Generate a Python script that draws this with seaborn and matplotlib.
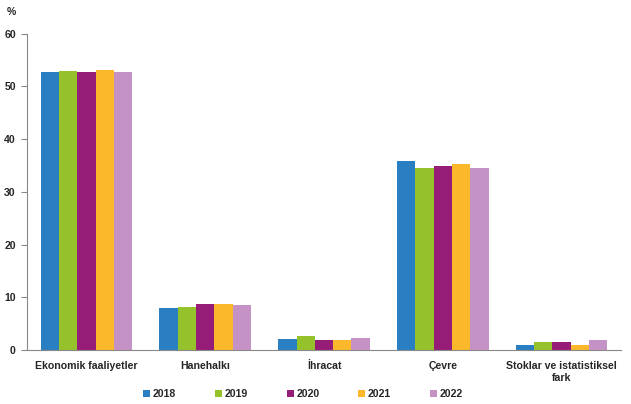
import numpy as np
import pandas as pd
import matplotlib
matplotlib.use("Agg")
import matplotlib.pyplot as plt
import seaborn as sns

# data
categories = ["Ekonomik faaliyetler", "Hanehalkı", "İhracat", "Çevre",
              "Stoklar ve istatistiksel\nfark"]
years = ["2018", "2019", "2020", "2021", "2022"]
v2018 = [52.8, 8.0, 2.0, 35.8, 1.0]
v2019 = [52.9, 8.2, 2.7, 34.5, 1.6]
v2020 = [52.7, 8.7, 1.8, 34.9, 1.6]
v2021 = [53.1, 8.7, 1.8, 35.3, 1.0]
v2022 = [52.7, 8.5, 2.3, 34.5, 1.8]
colors = ["#2a7fc2", "#95c12b", "#951d77", "#fbb82a", "#c492c5"]

series = [v2018, v2019, v2020, v2021, v2022]
rows = []
for y, vals in zip(years, series):
    for c, v in zip(categories, vals):
        rows.append({"Kategori": c, "Yil": y, "Deger": v})
df = pd.DataFrame(rows)

sns.set_style("white")
plt.rcParams["font.family"] = ["Liberation Sans", "DejaVu Sans"]
plt.rcParams["font.weight"] = "bold"
fs = 7.6

fig = plt.figure(figsize=(6.31, 4.04), dpi=100)
ax = fig.add_axes([0.0428, 0.1337, 0.9414, 0.7829])

sns.barplot(data=df, x="Kategori", y="Deger", hue="Yil", order=categories,
            hue_order=years, palette=colors, width=0.77, saturation=1,
            gap=0, linewidth=0, edgecolor="none", ax=ax, legend=True)

ax.set_xlim(-0.5, 4.5)
ax.set_ylim(0, 60)
ax.set_yticks(range(0, 61, 10))
ax.set_xlabel("")
ax.set_ylabel("")

for s in ["top", "right"]:
    ax.spines[s].set_visible(False)
for s in ["left", "bottom"]:
    ax.spines[s].set_color("#888888")
    ax.spines[s].set_linewidth(0.8)

# category boundary ticks on the x axis
ax.set_xticks(np.arange(-0.5, 5, 1), minor=True)
ax.tick_params(axis="x", which="minor", length=4, color="#888888", width=0.8)
ax.tick_params(axis="x", which="major", length=0, labelsize=fs, pad=8)
ax.tick_params(axis="y", length=4, color="#888888", width=0.8, labelsize=fs,
               left=True, pad=4)
for lab in ax.get_xticklabels() + ax.get_yticklabels():
    lab.set_fontweight("bold")

fig.text(0.011, 0.962, "%", fontsize=fs, fontweight="bold")

handles, labels = ax.get_legend_handles_labels()
ax.legend_.remove()
fig.legend(handles, labels, loc="center", bbox_to_anchor=(0.48, 0.025),
           ncol=5, frameon=False, handlelength=0.66,
           handleheight=0.6, handletextpad=0.25, columnspacing=3.7,
           prop={"weight": "bold", "size": fs})

fig.savefig("out.png", dpi=100)
